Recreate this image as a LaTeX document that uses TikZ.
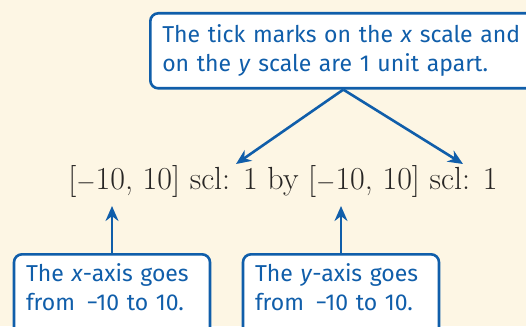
\documentclass[tikz,border=0pt]{standalone}
\usepackage{fontspec}
\setsansfont{Fira Sans}
\usetikzlibrary{arrows.meta,positioning}
\definecolor{noteblue}{RGB}{16,94,170}
\definecolor{paper}{RGB}{253,246,228}
\definecolor{ink}{RGB}{40,38,36}
\tikzset{
  note/.style={draw=noteblue, line width=2.6pt, rounded corners=8pt, fill=white,
    text=noteblue, font=\sffamily\fontsize{23}{29}\selectfont, align=left,
    inner xsep=12pt, inner ysep=9pt},
  pointer/.style={draw=noteblue, line width=2.6pt, -{Stealth[length=15pt,width=13pt]}}
}
\begin{document}
\begin{tikzpicture}[x=1pt,y=-1pt]
  \useasboundingbox (0,0) rectangle (526,326);
  \clip (0,0) rectangle (526,326);
  \fill[paper] (0,0) rectangle (526,326);
  % the viewing window
  \node[font=\fontsize{32}{36}\selectfont, text=ink] (range) at (283,181)
    {[$-$10, 10] scl: 1 by [$-$10, 10] scl: 1};
  % callouts
  \node[note, anchor=north west, text width=362pt, minimum height=75pt] (tick) at (149,12)
    {The tick marks on the \textit{x} scale and\\on the \textit{y} scale are 1 unit apart.};
  \node[note, anchor=north, text width=172pt, text depth=60pt] (xaxis) at (112,253)
    {The \textit{x}-axis goes\\from \,−10 to 10.};
  \node[note, anchor=north, text width=172pt, text depth=60pt] (yaxis) at (341,253)
    {The \textit{y}-axis goes\\from \,−10 to 10.};
  \coordinate (firstscl) at (236,164);
  \coordinate (lastscl) at (463,164);
  \coordinate (xtip) at (112,206);
  \coordinate (ytip) at (341,206);
  \draw[pointer] (tick.south) -- (firstscl);
  \draw[pointer] (tick.south) -- (lastscl);
  \draw[pointer] (xaxis.north) -- (xtip);
  \draw[pointer] (yaxis.north) -- (ytip);
\end{tikzpicture}
\end{document}
